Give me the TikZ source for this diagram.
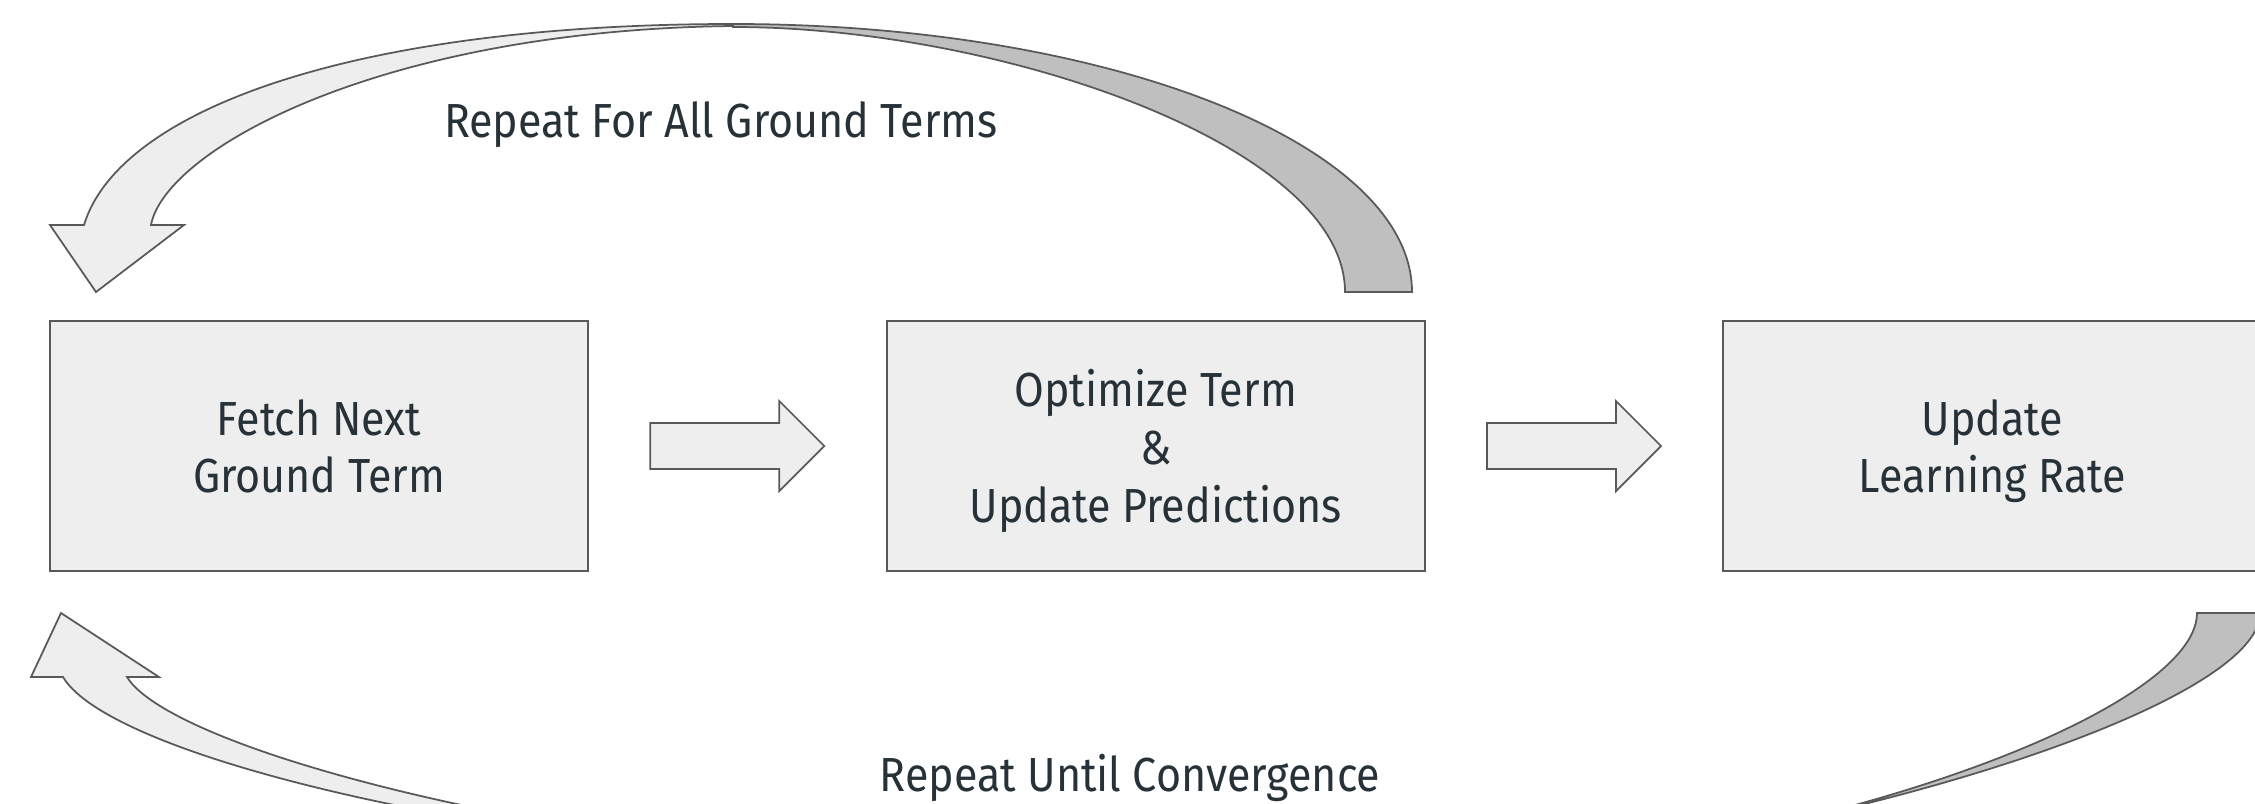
\documentclass[tikz,border=0pt]{standalone}
\usepackage{fontspec}
\setmainfont{Fira Sans}[FakeStretch=0.9]
\usepackage{tikz}
\usetikzlibrary{shapes.arrows, positioning}
\usepackage{xcolor}

\definecolor{boxgray}{HTML}{EEEEEE}
\definecolor{edgegray}{HTML}{595959}
\definecolor{backgray}{HTML}{BFBFBF}
\definecolor{inkslate}{HTML}{263238}

\begin{document}
\begin{tikzpicture}[x=0.01cm, y=-0.01cm]
    % Define styles
    \tikzset{
        stage/.style={
            rectangle,
            minimum width=5.38cm,
            minimum height=2.5cm,
            draw=edgegray,
            fill=boxgray,
            line width=0.6pt,
            inner sep=0pt,
            align=center,
            text depth=0pt,
            text=inkslate,
            font=\fontsize{13.6}{16.4}\selectfont
        },
        flowarrow/.style={
            single arrow,
            minimum height=1.74cm,
            inner xsep=0pt,
            inner ysep=0.22cm,
            single arrow head extend=0.22cm,
            single arrow tip angle=90,
            draw=edgegray,
            fill=boxgray,
            line width=0.5pt
        },
        ribbon front/.style={draw=edgegray, fill=boxgray, line width=0.5pt, line join=miter},
        ribbon back/.style={draw=edgegray, fill=backgray, line width=0.5pt},
        loop label/.style={anchor=base, text=inkslate, font=\fontsize{13.6}{16.4}\selectfont}
    }

    \useasboundingbox (0,0) rectangle (2255,803);
    \clip (0,0) rectangle (2255,803);

    % Pipeline boxes and arrows between them
    \node[stage] (fetch) at (319,446) {Fetch Next\\Ground Term};
    \node[flowarrow, right=0.6cm of fetch] (a1) {};
    \node[stage, right=0.6cm of a1] (optimize) {Optimize Term\\\&\\Update Predictions};
    \node[flowarrow, right=0.6cm of optimize] (a2) {};
    \node[stage, right=0.6cm of a2] (rate) {Update\\Learning Rate};

    % Upper loop: back half, then front half with head
    \draw[ribbon back] (1412,292) .. controls (1412,144) and (1108,24) .. (733,24)
        -- (733,27) .. controls (1000,27) and (1345,146) .. (1345,292) -- cycle;
    \draw[ribbon front] (733,24) .. controls (353,24) and (119,110) .. (84,225)
        -- (50,225) -- (96,292) -- (184,225) -- (151,225)
        .. controls (165,150) and (380,30) .. (733,26) -- cycle;

    % Lower loop: back half, then front half with head
    \draw[ribbon back] (2260,613) .. controls (2260,720) and (1700,880) .. (1300,880)
        .. controls (1750,880) and (2197,720) .. (2197,613) -- cycle;
    \draw[ribbon front] (1100,871) .. controls (580,872) and (115,765) .. (63,677)
        -- (31,677) -- (61,613) -- (159,677) -- (127,677)
        .. controls (175,755) and (620,870) .. (1100,871) -- cycle;

    % Loop labels
    \node[loop label] (forall) at (721,137) {Repeat For All Ground Terms};
    \node[loop label] (converge) at (1130,791) {Repeat Until Convergence};

\end{tikzpicture}
\end{document}
